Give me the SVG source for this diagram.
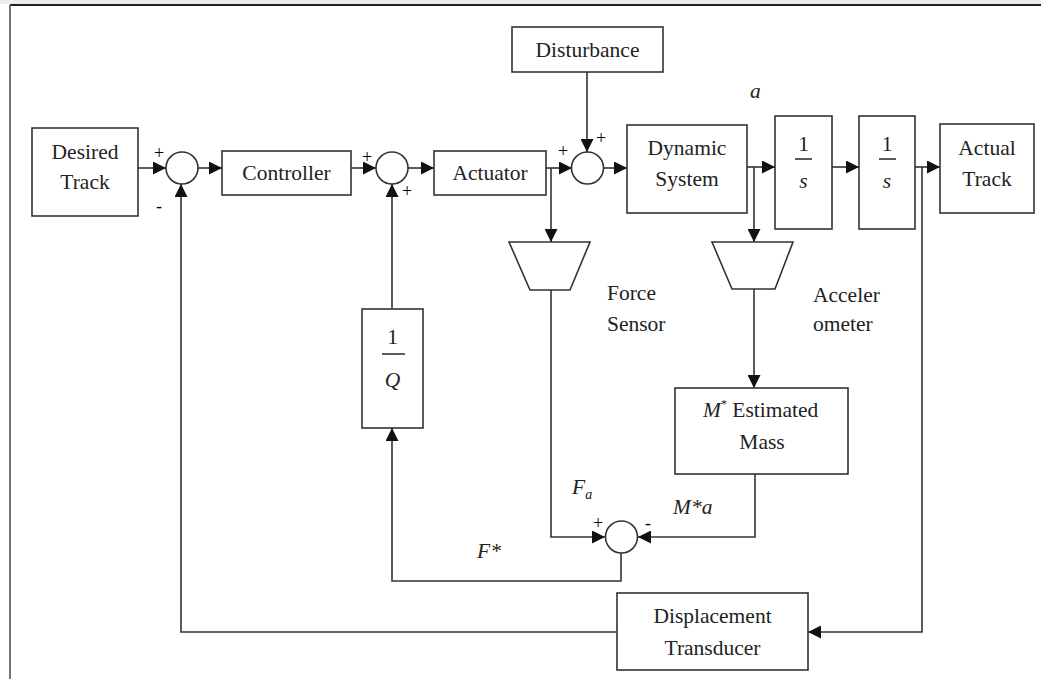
<svg xmlns="http://www.w3.org/2000/svg" width="1041" height="679" viewBox="0 0 1041 679">
<style>
.box{fill:#fff;stroke:#333;stroke-width:1.6}
.ln{fill:none;stroke:#333;stroke-width:1.6}
.arr{fill:none;stroke:#333;stroke-width:1.6;marker-end:url(#ah)}
text{font-family:"Liberation Serif","Times New Roman",serif;fill:#222}
.t{font-size:21.5px;text-anchor:middle}
.tl{font-size:21.5px}
.i{font-style:italic}
.sg{font-size:18px;text-anchor:middle;fill:#000}
</style>
<defs>
<marker id="ah" viewBox="0 0 12 12" refX="12" refY="6" markerWidth="13" markerHeight="13" markerUnits="userSpaceOnUse" orient="auto">
<path d="M0,0 L12,6 L0,12 z" fill="#111"/>
</marker>
</defs>
<rect x="0" y="0" width="1041" height="679" fill="#fff"/>
<rect x="0" y="0" width="1041" height="4" fill="#ececec"/>
<g id="frame">
<line x1="10" y1="5" x2="1041" y2="5" stroke="#222" stroke-width="1.8"/>
<line x1="10" y1="5" x2="10" y2="679" stroke="#666" stroke-width="1.8"/>
</g>
<g id="connectors">
<line class="arr" x1="138" y1="168" x2="166" y2="168"/>
<line class="arr" x1="198" y1="168" x2="222" y2="168"/>
<line class="arr" x1="351" y1="168" x2="376" y2="168"/>
<line class="arr" x1="408" y1="168" x2="434" y2="168"/>
<line class="arr" x1="546" y1="168" x2="572" y2="168"/>
<line class="arr" x1="587" y1="72" x2="587" y2="152"/>
<line class="arr" x1="603" y1="168" x2="627" y2="168"/>
<line class="arr" x1="747" y1="167" x2="775" y2="167"/>
<line class="arr" x1="832" y1="167" x2="859" y2="167"/>
<line class="arr" x1="915" y1="167" x2="940" y2="167"/>
<line class="arr" x1="551" y1="168" x2="551" y2="242"/>
<line class="arr" x1="754" y1="167" x2="754" y2="242"/>
<line class="arr" x1="754" y1="289" x2="754" y2="388"/>
<polyline class="arr" points="551,290 551,537 605,537"/>
<polyline class="arr" points="755,474 755,537 638,537"/>
<polyline class="arr" points="621,553 621,581 392,581 392,428"/>
<line class="arr" x1="392" y1="309" x2="392" y2="184"/>
<polyline class="arr" points="922,167 922,632 808,632"/>
<polyline class="arr" points="617,632 181,632 181,184"/>
</g>
<g id="desired-track">
<rect class="box" x="32" y="128" width="106" height="88"/>
<text class="t" x="85" y="159">Desired</text>
<text class="t" x="85" y="189">Track</text>
</g>
<g id="sum1">
<circle class="box" cx="182" cy="168" r="16"/>
<text class="sg" x="159" y="159">+</text>
<text class="sg" x="159" y="212">-</text>
</g>
<g id="controller">
<rect class="box" x="222" y="151" width="129" height="44"/>
<text class="t" x="286.5" y="180">Controller</text>
</g>
<g id="sum2">
<circle class="box" cx="392" cy="168" r="16"/>
<text class="sg" x="367" y="163">+</text>
<text class="sg" x="407" y="197">+</text>
</g>
<g id="actuator">
<rect class="box" x="434" y="151" width="112" height="44"/>
<text class="t" x="490" y="180">Actuator</text>
</g>
<g id="disturbance">
<rect class="box" x="512" y="27" width="151" height="45"/>
<text class="t" x="587.5" y="57">Disturbance</text>
</g>
<g id="sum3">
<circle class="box" cx="587.5" cy="168" r="16"/>
<text class="sg" x="563" y="157">+</text>
<text class="sg" x="601" y="144">+</text>
</g>
<g id="dynamic-system">
<rect class="box" x="627" y="125" width="120" height="88"/>
<text class="t" x="687" y="155">Dynamic</text>
<text class="t" x="687" y="186">System</text>
</g>
<text class="tl i" x="750" y="98">a</text>
<g id="integrator1">
<rect class="box" x="775" y="116" width="57" height="113"/>
<text class="t" x="803.5" y="151" font-size="24">1</text>
<line class="ln" x1="795" y1="159" x2="812" y2="159"/>
<text class="t i" x="803.5" y="188" font-size="23">s</text>
</g>
<g id="integrator2">
<rect class="box" x="859" y="116" width="56" height="113"/>
<text class="t" x="887" y="151" font-size="24">1</text>
<line class="ln" x1="879" y1="159" x2="896" y2="159"/>
<text class="t i" x="887" y="188" font-size="23">s</text>
</g>
<g id="actual-track">
<rect class="box" x="940" y="124" width="94" height="89"/>
<text class="t" x="987" y="155">Actual</text>
<text class="t" x="987" y="186">Track</text>
</g>
<g id="force-sensor">
<polygon class="box" points="509,242 590,242 570,290 530,290"/>
<text class="tl" x="607" y="300">Force</text>
<text class="tl" x="607" y="331">Sensor</text>
</g>
<g id="accelerometer">
<polygon class="box" points="712,242 793,242 775,289 732,289"/>
<text class="tl" x="813" y="302">Acceler</text>
<text class="tl" x="813" y="331">ometer</text>
</g>
<g id="estimated-mass">
<rect class="box" x="675" y="388" width="173" height="86"/>
<text class="tl" x="703" y="417"><tspan class="i">M</tspan><tspan font-size="12" dy="-9">*</tspan><tspan dy="9"> Estimated</tspan></text>
<text class="t" x="762" y="449">Mass</text>
</g>
<g id="inv-q">
<rect class="box" x="362" y="309" width="61" height="119"/>
<text class="t" x="392.5" y="344" font-size="24">1</text>
<line class="ln" x1="382" y1="354" x2="405" y2="354"/>
<text class="t i" x="392.5" y="387" font-size="24">Q</text>
</g>
<g id="sum4">
<circle class="box" cx="621.5" cy="537" r="16"/>
<text class="sg" x="598" y="529">+</text>
<text class="sg" x="648" y="529">-</text>
</g>
<text class="tl i" x="572" y="494">F<tspan font-size="14" dy="5">a</tspan></text>
<text class="tl i" x="673" y="514">M*a</text>
<text class="tl i" x="477" y="558">F*</text>
<g id="displacement-transducer">
<rect class="box" x="617" y="593" width="191" height="77"/>
<text class="t" x="712.5" y="623">Displacement</text>
<text class="t" x="712.5" y="655">Transducer</text>
</g>
</svg>
